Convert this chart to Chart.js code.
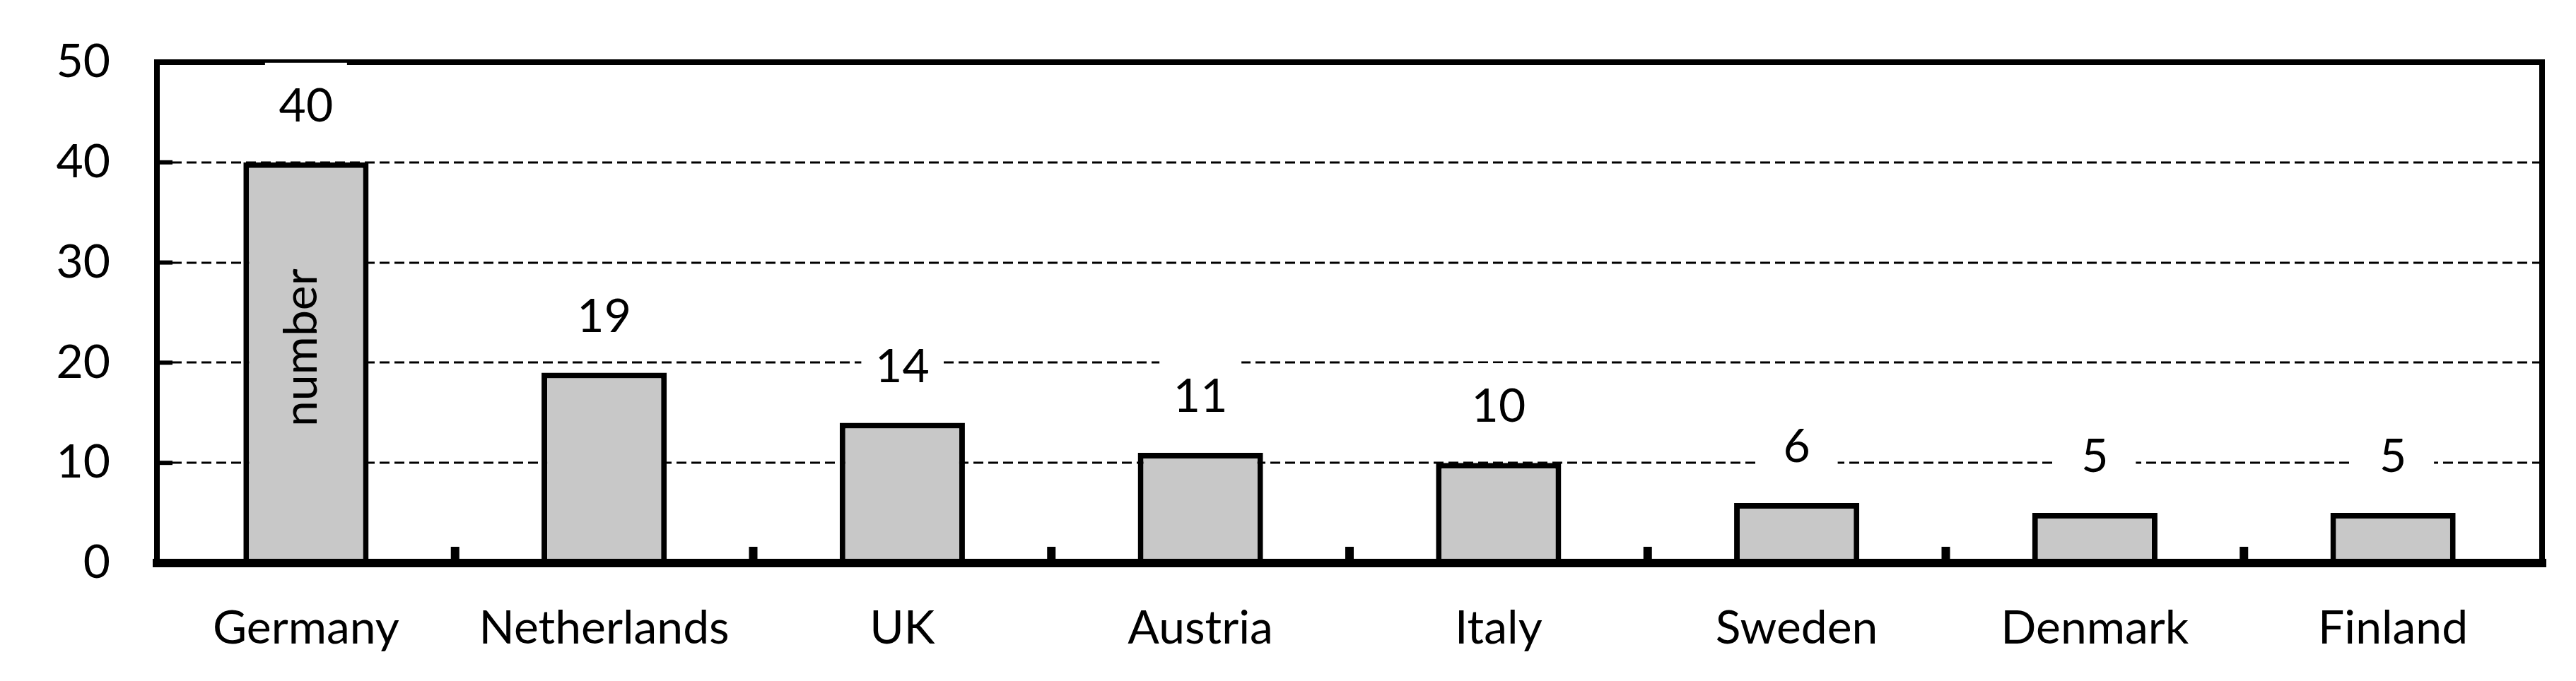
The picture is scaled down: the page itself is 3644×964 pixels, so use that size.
<!DOCTYPE html>
<html>
<head>
<meta charset="utf-8">
<script src="https://cdn.jsdelivr.net/npm/chart.js@4.4.1/dist/chart.umd.min.js"></script>
<style>
    html, body { margin: 0; padding: 0; background: #fff; }
</style>
</head>
<body>
<canvas id="countryChart" width="3644" height="964"></canvas>
<script>
// Data
const countries = ['Germany', 'Netherlands', 'UK', 'Austria', 'Italy', 'Sweden', 'Denmark', 'Finland'];
const counts = [40, 19, 14, 11, 10, 6, 5, 5];
const yTicks = [0, 10, 20, 30, 40, 50];
const axisTitle = 'number';

const FONT = 'Lato, Calibri, Carlito, sans-serif';
const FONT_SIZE = 66;

// Grid, frame, ticks, labels drawn by hand
const framePlugin = {
    id: 'frame',
    beforeDatasetsDraw(chart) {
        const { ctx, chartArea: a, scales: { y } } = chart;
        ctx.save();
        ctx.strokeStyle = '#000';
        ctx.lineWidth = 3;
        ctx.setLineDash([14, 7]);
        yTicks.forEach(v => {
            if (v === y.min || v === y.max) return;
            const py = Math.round(y.getPixelForValue(v));
            ctx.beginPath();
            ctx.moveTo(a.left, py);
            ctx.lineTo(a.right, py);
            ctx.stroke();
        });
        ctx.restore();
    },
    afterDatasetsDraw(chart) {
        const { ctx, chartArea: a, scales: { x, y } } = chart;
        ctx.save();
        ctx.strokeStyle = '#000';
        ctx.fillStyle = '#000';
        ctx.lineCap = 'square';

        // outer box
        ctx.lineWidth = 8;
        ctx.beginPath();
        ctx.moveTo(a.left, a.bottom);
        ctx.lineTo(a.left, a.top);
        ctx.lineTo(a.right, a.top);
        ctx.lineTo(a.right, a.bottom);
        ctx.stroke();
        ctx.lineWidth = 12;
        ctx.beginPath();
        ctx.moveTo(a.left, a.bottom);
        ctx.lineTo(a.right, a.bottom);
        ctx.stroke();

        // y ticks, pointing inwards
        yTicks.forEach(v => {
            if (v === y.min || v === y.max) return;
            const py = y.getPixelForValue(v);
            ctx.fillRect(a.left, py - 3, 22, 6);
        });

        // x ticks between the categories
        const step = (a.right - a.left) / countries.length;
        for (let i = 1; i < countries.length; i++) {
            const px = x.getPixelForValue(i) - step / 2;
            ctx.fillRect(px - 6, a.bottom - 23, 12, 23);
        }

        // value labels on a white box
        ctx.font = FONT_SIZE + 'px ' + FONT;
        ctx.textAlign = 'center';
        ctx.textBaseline = 'middle';
        chart.getDatasetMeta(0).data.forEach((bar, i) => {
            const cy = bar.y - 79;
            ctx.fillStyle = '#fff';
            ctx.fillRect(bar.x - 58, cy - 62, 116, 97);
            ctx.fillStyle = '#000';
            ctx.fillText(String(counts[i]), bar.x, cy);
        });

        // axis title sits inside the first bar
        ctx.translate(x.getPixelForValue(0) - 6, y.getPixelForValue(21.5));
        ctx.rotate(-Math.PI / 2);
        ctx.fillText(axisTitle, 0, 0);
        ctx.restore();
    }
};

const ctx = document.getElementById('countryChart').getContext('2d');

const countryChart = new Chart(ctx, {
    type: 'bar',
    data: {
        labels: countries,
        datasets: [{
            label: axisTitle,
            data: counts,
            backgroundColor: '#c8c8c8',
            borderColor: '#000',
            borderWidth: 8,
            categoryPercentage: 1,
            barPercentage: 0.42
        }]
    },
    options: {
        responsive: false,
        animation: false,
        layout: { padding: { top: 88, right: 48, left: 0, bottom: 0 } },
        plugins: {
            legend: { display: false },
            tooltip: { enabled: false }
        },
        scales: {
            x: {
                grid: { display: false, drawTicks: false },
                border: { display: false },
                ticks: {
                    color: '#000',
                    padding: 53,
                    maxRotation: 0,
                    font: { family: FONT, size: FONT_SIZE }
                },
                afterFit(scale) {
                    scale.height = 167;
                    scale.paddingLeft = 0;
                    scale.paddingRight = 0;
                }
            },
            y: {
                min: 0,
                max: 50,
                grid: { display: false, drawTicks: false },
                border: { display: false },
                ticks: {
                    stepSize: 10,
                    color: '#000',
                    padding: 66,
                    font: { family: FONT, size: FONT_SIZE }
                },
                afterFit(scale) {
                    scale.width = 222;
                    scale.paddingTop = 0;
                    scale.paddingBottom = 0;
                }
            }
        }
    },
    plugins: [framePlugin]
});
</script>
</body>
</html>
